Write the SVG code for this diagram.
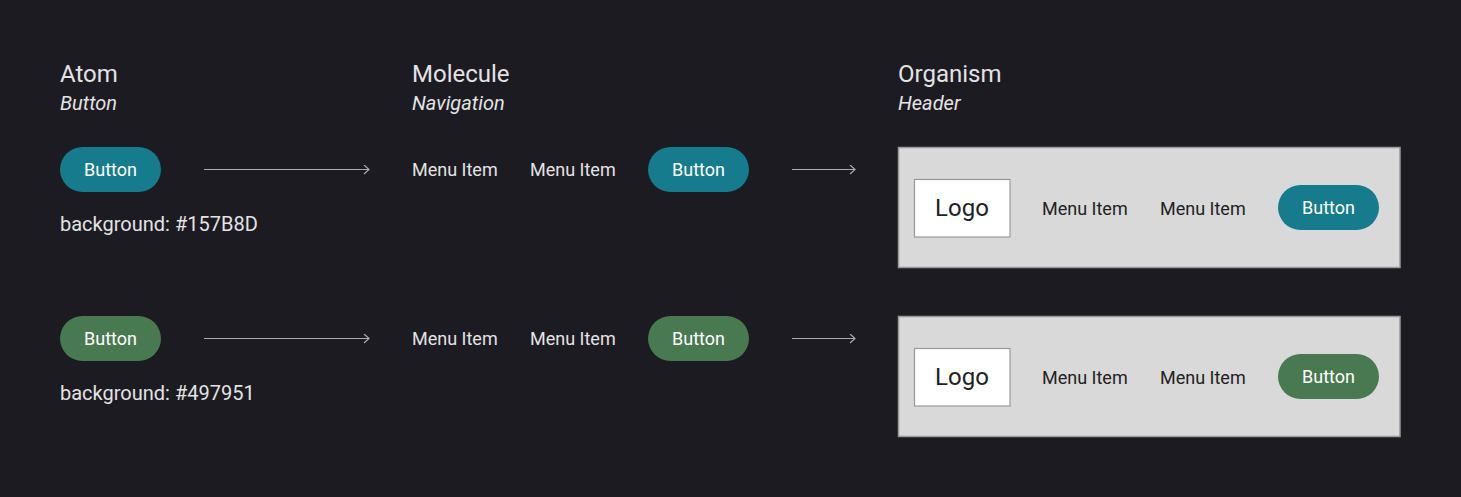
<svg xmlns="http://www.w3.org/2000/svg" width="1461" height="497" viewBox="0 0 1461 497">
<defs>
<style>
text{font-family:Roboto,"Liberation Sans",sans-serif;}
.h{font-size:24px;fill:#e3e3e3;}
.s{font-size:20px;fill:#e3e3e3;font-style:italic;}
.lbl{font-size:20px;fill:#e3e3e3;}
.btxt{font-size:18px;fill:#ffffff;text-anchor:middle;}
.mi{font-size:18px;fill:#e3e3e3;}
.hmi{font-size:18px;fill:#222222;}
.teal{fill:#157B8D;}
.green{fill:#497951;}
.hdr{fill:#d9d9d9;stroke:#999999;stroke-width:1.5;}
.logo{fill:#ffffff;stroke:#999999;stroke-width:1.2;}
.logotxt{font-size:24px;fill:#222222;text-anchor:middle;}
.arrow{stroke:#aaaaaa;stroke-width:1.2;fill:none;marker-end:url(#ah);}
</style>
<marker id="ah" viewBox="0 0 10 10" refX="9" refY="5" markerWidth="10" markerHeight="10" markerUnits="userSpaceOnUse" orient="auto">
<path d="M4,0.5 L9,5 L4,9.5" fill="none" stroke="#aaaaaa" stroke-width="1.2"/>
</marker>
</defs>
<rect width="1461" height="497" fill="#1c1b21"/>

<g id="headings">
<text class="h" x="60" y="82">Atom</text>
<text class="s" x="60" y="110">Button</text>
<text class="h" x="412" y="82">Molecule</text>
<text class="s" x="412" y="110">Navigation</text>
<text class="h" x="898" y="82">Organism</text>
<text class="s" x="898" y="110">Header</text>
</g>

<g id="atom-teal">
<rect class="teal" x="60" y="147" width="101" height="45" rx="22.5"/>
<text class="btxt" x="110.5" y="176">Button</text>
<text class="lbl" x="60" y="231">background: #157B8D</text>
</g>

<g id="molecule-teal">
<text class="mi" x="412" y="176">Menu Item</text>
<text class="mi" x="530" y="176">Menu Item</text>
<rect class="teal" x="648" y="147" width="101" height="45" rx="22.5"/>
<text class="btxt" x="698.5" y="176">Button</text>
</g>

<g id="organism-teal">
<rect class="hdr" x="898.5" y="147.5" width="501.5" height="120"/>
<rect class="logo" x="914.5" y="179.5" width="95.5" height="57.5"/>
<text class="logotxt" x="962" y="216">Logo</text>
<text class="hmi" x="1042" y="215">Menu Item</text>
<text class="hmi" x="1160" y="215">Menu Item</text>
<rect class="teal" x="1278" y="185" width="101" height="45" rx="22.5"/>
<text class="btxt" x="1328.5" y="214">Button</text>
</g>

<g id="atom-green">
<rect class="green" x="60" y="316" width="101" height="45" rx="22.5"/>
<text class="btxt" x="110.5" y="345">Button</text>
<text class="lbl" x="60" y="400">background: #497951</text>
</g>

<g id="molecule-green">
<text class="mi" x="412" y="345">Menu Item</text>
<text class="mi" x="530" y="345">Menu Item</text>
<rect class="green" x="648" y="316" width="101" height="45" rx="22.5"/>
<text class="btxt" x="698.5" y="345">Button</text>
</g>

<g id="organism-green">
<rect class="hdr" x="898.5" y="316.5" width="501.5" height="120"/>
<rect class="logo" x="914.5" y="348.5" width="95.5" height="57.5"/>
<text class="logotxt" x="962" y="385">Logo</text>
<text class="hmi" x="1042" y="384">Menu Item</text>
<text class="hmi" x="1160" y="384">Menu Item</text>
<rect class="green" x="1278" y="354" width="101" height="45" rx="22.5"/>
<text class="btxt" x="1328.5" y="383">Button</text>
</g>

<g id="connectors">
<line class="arrow" x1="204" y1="169.5" x2="369" y2="169.5"/>
<line class="arrow" x1="792" y1="169.5" x2="855" y2="169.5"/>
<line class="arrow" x1="204" y1="338.5" x2="369" y2="338.5"/>
<line class="arrow" x1="792" y1="338.5" x2="855" y2="338.5"/>
</g>
</svg>
